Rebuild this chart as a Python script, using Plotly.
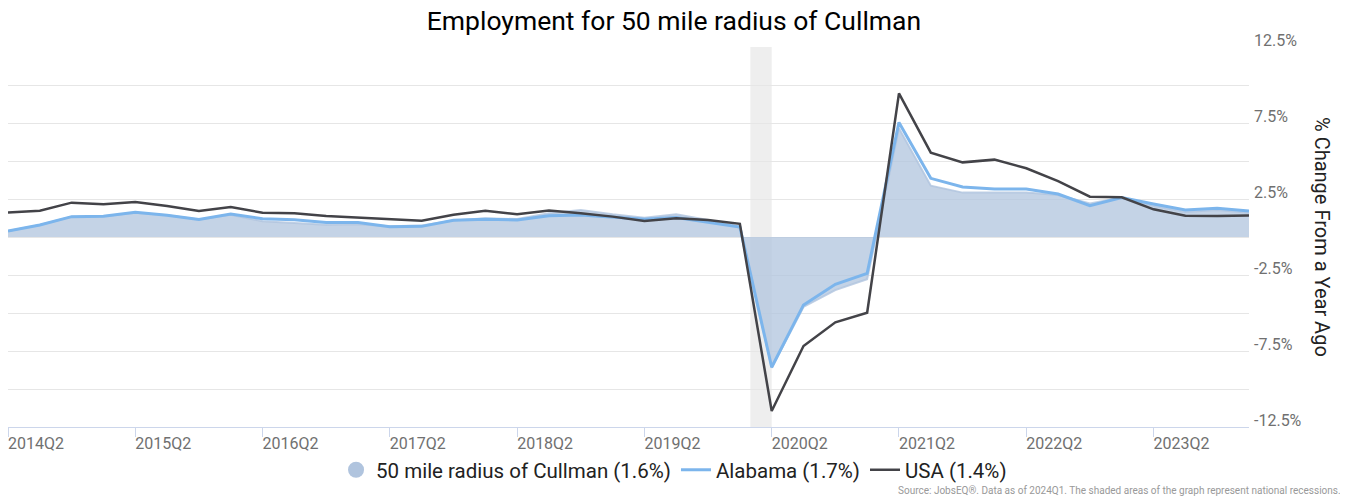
import plotly.graph_objects as go

# quarterly categories, 2014Q2 .. 2024Q1
quarters = [f"{y}Q{q}" for y in range(2014, 2025) for q in range(1, 5)][1:41]

cullman = [0.39, 0.79, 1.34, 1.36, 1.60, 1.43, 1.16, 1.46, 1.03, 0.92,
           0.80, 0.84, 0.70, 0.76, 1.08, 1.23, 1.18, 1.56, 1.78, 1.49,
           1.27, 1.49, 1.12, 0.68, -8.60, -4.60, -3.49, -2.78, 7.15, 3.38,
           2.92, 2.92, 2.92, 2.76, 2.21, 2.59, 2.06, 1.64, 1.78, 1.60]
alabama = [0.39, 0.79, 1.34, 1.36, 1.62, 1.43, 1.16, 1.52, 1.20, 1.14,
           0.95, 0.95, 0.67, 0.70, 1.10, 1.16, 1.12, 1.40, 1.45, 1.28,
           1.16, 1.28, 0.98, 0.66, -8.57, -4.47, -3.11, -2.39, 7.54, 3.86,
           3.29, 3.16, 3.16, 2.83, 2.06, 2.59, 2.17, 1.78, 1.89, 1.71]
usa = [1.62, 1.73, 2.26, 2.15, 2.30, 2.04, 1.71, 1.97, 1.60, 1.56,
       1.38, 1.27, 1.16, 1.07, 1.47, 1.73, 1.49, 1.75, 1.56, 1.34,
       1.05, 1.23, 1.12, 0.87, -11.45, -7.17, -5.61, -4.98, 9.45, 5.55,
       4.91, 5.09, 4.52, 3.68, 2.65, 2.61, 1.82, 1.40, 1.38, 1.42]

x_ticks = quarters[::4]
y_ticks = [-12.5, -10, -7.5, -5, -2.5, 0, 2.5, 5, 7.5, 10, 12.5]
y_labels = ["-12.5%", "", "-7.5%", "", "-2.5%", "", "2.5%", "", "7.5%", "", "12.5%"]

fig = go.Figure()

fig.add_trace(go.Scatter(x=quarters, y=cullman, mode='lines', fill='tozeroy',
                         line=dict(color='rgba(176,196,222,0.8)', width=2),
                         fillcolor='rgba(176,196,222,0.75)',
                         showlegend=False, hoverinfo='skip'))
# legend entry with round symbol for the area series
fig.add_trace(go.Scatter(x=[None], y=[None], mode='markers',
                         marker=dict(color='#b0c4de', size=20, symbol='circle'),
                         name='50 mile radius of Cullman (1.6%)'))
fig.add_trace(go.Scatter(x=quarters, y=alabama, mode='lines',
                         line=dict(color='#7cb5ec', width=3),
                         name='Alabama (1.7%)'))
fig.add_trace(go.Scatter(x=quarters, y=usa, mode='lines',
                         line=dict(color='#434348', width=2.5),
                         name='USA (1.4%)'))

# recession band
fig.add_vrect(x0=23.33, x1=24, fillcolor='#eeeeee', line_width=0, layer='below')

# page body adds 8px around the figure, so the figure is 8px smaller
fig.update_layout(
    width=1340, height=492,
    margin=dict(l=0, r=99, t=39, b=73),
    paper_bgcolor='white', plot_bgcolor='white',
    font=dict(family='Roboto', color='#333333'),
    title=dict(text='Employment for 50 mile radius of Cullman', x=0.497, xref='container',
               xanchor='center', y=0.974, yanchor='middle',
               font=dict(size=26.5, color='#000000')),
    legend=dict(orientation='h', x=0.5367, xanchor='center', y=-0.113, yanchor='middle',
                font=dict(size=20.5, color='#222222'), itemwidth=30, tracegroupgap=0),
    xaxis=dict(type='category', range=[0, 39], tickmode='array', tickvals=x_ticks,
               ticktext=x_ticks, ticks='outside', ticklen=9, tickcolor='#ccd6eb',
               showline=True, linecolor='#ccd6eb', linewidth=1, showgrid=False,
               tickfont=dict(size=16, color='#707070'), ticklabelshift=28,
               ticklabelstandoff=-7, automargin=False),
    yaxis=dict(side='right', range=[-12.5, 12.5], tickmode='array', tickvals=y_ticks,
               ticktext=y_labels, gridcolor='#e6e6e6', zeroline=False,
               tickfont=dict(size=16, color='#707070'), ticklabelshift=-7,
               ticklabelstandoff=4, automargin=False),
)

fig.add_annotation(text='% Change From a Year Ago', xref='paper', yref='paper',
                   x=1.0588, y=0.5, xanchor='center', yanchor='middle', textangle=90,
                   showarrow=False, font=dict(size=20, color='#222222'))
fig.add_annotation(text='Source: JobsEQ®. Data as of 2024Q1. The shaded areas of the graph represent national recessions.',
                   xref='paper', yref='paper', x=1.0758, y=-0.168, xanchor='right',
                   yanchor='middle', showarrow=False, font=dict(size=10, color='#999999'))

fig.write_html("out.html")
